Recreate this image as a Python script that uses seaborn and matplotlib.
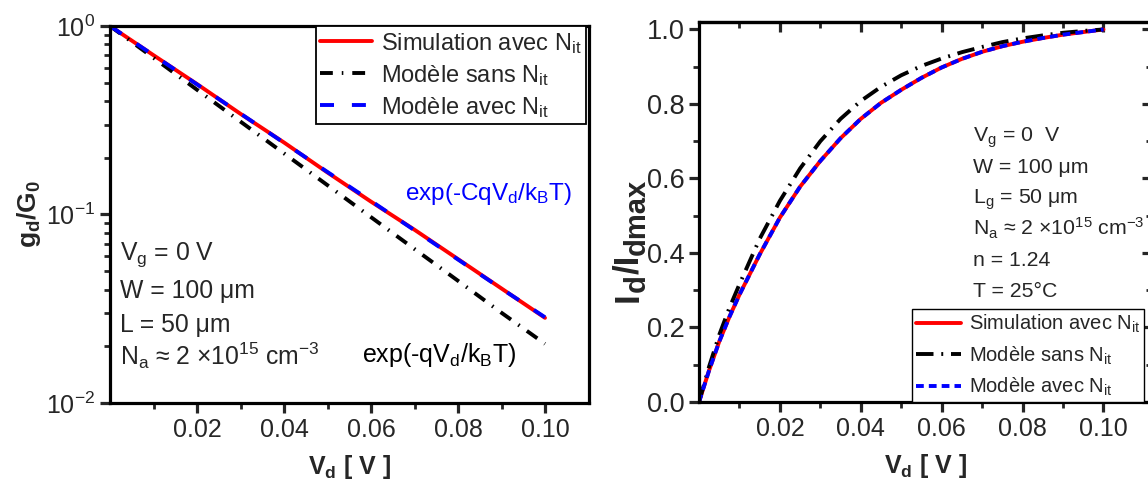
import matplotlib
matplotlib.use("Agg")
import matplotlib.pyplot as plt
import matplotlib.ticker as mticker
from matplotlib.transforms import IdentityTransform
import seaborn as sns

# values
vd = [0.0, 0.01, 0.02, 0.03, 0.04, 0.05, 0.06, 0.07, 0.08, 0.09, 0.10]

# left panel : g_d / G_0 (log scale)
gd_sim = [1.0, 0.700, 0.492, 0.342, 0.241, 0.167, 0.117, 0.083, 0.058, 0.0405, 0.0283]
gd_sans = [1.0, 0.678, 0.459, 0.311, 0.211, 0.143, 0.0968, 0.0656, 0.0445, 0.0301, 0.0206]
gd_avec = [1.0, 0.700, 0.490, 0.343, 0.240, 0.168, 0.118, 0.0825, 0.0577, 0.0404, 0.0285]

# right panel : I_d / I_dmax
vd2 = [0.0, 0.0025, 0.005, 0.0075, 0.01, 0.015, 0.02, 0.025, 0.03, 0.035, 0.04, 0.045,
       0.05, 0.055, 0.06, 0.065, 0.07, 0.075, 0.08, 0.085, 0.09, 0.095, 0.10]
id_sim = [0.0, 0.085, 0.162, 0.228, 0.288, 0.396, 0.495, 0.578, 0.647, 0.708, 0.760, 0.803,
          0.838, 0.870, 0.898, 0.921, 0.940, 0.955, 0.967, 0.977, 0.986, 0.993, 1.0]
id_sans = [0.0, 0.095, 0.180, 0.252, 0.316, 0.438, 0.540, 0.627, 0.700, 0.760, 0.808, 0.846,
           0.877, 0.902, 0.922, 0.939, 0.953, 0.966, 0.976, 0.984, 0.991, 0.996, 1.0]
id_avec = [0.0, 0.085, 0.162, 0.228, 0.288, 0.396, 0.495, 0.578, 0.647, 0.708, 0.760, 0.803,
           0.838, 0.870, 0.898, 0.921, 0.940, 0.955, 0.967, 0.977, 0.986, 0.993, 1.0]

labels = ['Simulation avec N$_\\mathrm{it}$', 'Modèle sans N$_\\mathrm{it}$',
          'Modèle avec N$_\\mathrm{it}$']

sns.set_style("ticks")
plt.rcParams['font.family'] = ['Liberation Sans', 'DejaVu Sans']
plt.rcParams['mathtext.fontset'] = 'custom'
plt.rcParams['mathtext.rm'] = 'Liberation Sans'
plt.rcParams['mathtext.it'] = 'Liberation Sans:italic'
plt.rcParams['mathtext.bf'] = 'Liberation Sans:bold'
plt.rcParams['axes.linewidth'] = 2.3
plt.rcParams['axes.edgecolor'] = 'black'

fig = plt.figure(figsize=(11.48, 4.94), dpi=100)
W, H = 1148, 494
ax1 = fig.add_axes([110 / W, (H - 403) / H, 478.5 / W, 377 / H])
ax2 = fig.add_axes([699 / W, (H - 402) / H, 453 / W, 380 / H])

lw = 2.8

# ---- left panel
ax1.set_yscale('log')
sns.lineplot(x=vd, y=gd_sim, ax=ax1, color='red', lw=lw, label=labels[0])
sns.lineplot(x=vd, y=gd_sans, ax=ax1, color='black', lw=lw,
             linestyle=(0, (3.3, 2.3, 0.4, 2.3)), label=labels[1])
sns.lineplot(x=vd, y=gd_avec, ax=ax1, color='blue', lw=lw,
             linestyle=(0, (3.6, 4.6)), label=labels[2])
ax1.set_xlim(0, 0.11)
ax1.set_ylim(0.01, 1)
ax1.set_xticks([0.02, 0.04, 0.06, 0.08, 0.10])
ax1.xaxis.set_minor_locator(mticker.FixedLocator([0.01, 0.03, 0.05, 0.07, 0.09]))
ax1.xaxis.set_major_formatter(mticker.FormatStrFormatter('%.2f'))
ax1.yaxis.set_minor_formatter(mticker.NullFormatter())
ax1.tick_params(which='major', direction='out', length=7, width=2.3, labelsize=18)
ax1.tick_params(which='minor', direction='out', length=4, width=2)
ax1.set_xlabel('V$_\\mathbf{d}$ [ V ]', fontsize=18, fontweight='bold', labelpad=8)
ax1.set_ylabel('g$_\\mathbf{d}$/G$_\\mathbf{0}$', fontsize=19, fontweight='bold', labelpad=2)

leg1 = ax1.legend(loc='upper right', bbox_to_anchor=(0.995, 1.0), borderaxespad=0.0,
                  fontsize=17, frameon=True, fancybox=False, edgecolor='black',
                  handlelength=2.2, labelspacing=0.3, borderpad=0.2, handletextpad=0.35)
leg1.get_frame().set_linewidth(1.3)
leg1.get_frame().set_alpha(1)

left_txt = ['V$_\\mathrm{g}$ = 0 V', 'W = 100 μm', 'L = 50 μm',
            'N$_\\mathrm{a}$ ≈ 2 ×10$^{15}$ cm$^{-3}$']
for t, yy in zip(left_txt, [0.379, 0.2785, 0.188, 0.102]):
    ax1.text(0.021, yy, t, transform=ax1.transAxes, fontsize=17.8, va='baseline')
ax1.text(0.617, 0.538, 'exp(-CqV$_\\mathrm{d}$/k$_\\mathrm{B}$T)', color='blue',
         transform=ax1.transAxes, fontsize=17.5, va='baseline')
ax1.text(0.527, 0.109, 'exp(-qV$_\\mathrm{d}$/k$_\\mathrm{B}$T)', color='black',
         transform=ax1.transAxes, fontsize=18, va='baseline')

# ---- right panel
sns.lineplot(x=vd2, y=id_sim, ax=ax2, color='red', lw=lw, label=labels[0])
sns.lineplot(x=vd2, y=id_sans, ax=ax2, color='black', lw=lw,
             linestyle=(0, (4.5, 2, 0.5, 2)), label=labels[1])
sns.lineplot(x=vd2, y=id_avec, ax=ax2, color='blue', lw=lw,
             linestyle=(0, (2, 1.3)), label=labels[2])
ax2.set_xlim(0, 0.112)
ax2.set_ylim(0, 1.02)
ax2.set_xticks([0.02, 0.04, 0.06, 0.08, 0.10])
ax2.xaxis.set_minor_locator(mticker.FixedLocator([0.01, 0.03, 0.05, 0.07, 0.09]))
ax2.xaxis.set_major_formatter(mticker.FormatStrFormatter('%.2f'))
ax2.set_yticks([0.0, 0.2, 0.4, 0.6, 0.8, 1.0])
ax2.yaxis.set_minor_locator(mticker.FixedLocator([0.1, 0.3, 0.5, 0.7, 0.9]))
ax2.yaxis.set_major_formatter(mticker.FormatStrFormatter('%.1f'))
ax2.tick_params(which='major', direction='out', length=7, width=2.3, labelsize=18)
ax2.tick_params(axis='y', labelsize=19.5)
ax2.tick_params(which='minor', direction='out', length=4, width=2)
ax2.set_xlabel('V$_\\mathbf{d}$ [ V ]', fontsize=18, fontweight='bold', labelpad=8)

# mirrored ticks pointing inward on top and right
top = ax2.secondary_xaxis('top')
top.set_xticks([0.02, 0.04, 0.06, 0.08, 0.10])
top.xaxis.set_minor_locator(mticker.FixedLocator([0.01, 0.03, 0.05, 0.07, 0.09]))
top.tick_params(which='major', direction='in', length=7, width=2.3, labeltop=False)
top.tick_params(which='minor', direction='in', length=4, width=2)
right = ax2.secondary_yaxis('right')
right.set_yticks([0.0, 0.2, 0.4, 0.6, 0.8, 1.0])
right.yaxis.set_minor_locator(mticker.FixedLocator([0.1, 0.3, 0.5, 0.7, 0.9]))
right.tick_params(which='major', direction='in', length=7, width=2.3, labelright=False)
right.tick_params(which='minor', direction='in', length=4, width=2)

leg2 = ax2.legend(loc='lower left', bbox_to_anchor=(0.471, 0.0), borderaxespad=0.0,
                  fontsize=14.5, frameon=True, fancybox=False, edgecolor='black',
                  handlelength=2.2, labelspacing=0.45, borderpad=0.2, handletextpad=0.4)
leg2.get_frame().set_linewidth(1.0)
leg2.get_frame().set_alpha(1)

right_txt = ['V$_\\mathrm{g}$ = 0  V', 'W = 100 μm', 'L$_\\mathrm{g}$ = 50 μm',
             'N$_\\mathrm{a}$ ≈ 2 ×10$^{15}$ cm$^{-3}$', 'n = 1.24', 'T = 25°C']
for t, yy in zip(right_txt, [0.684, 0.603, 0.521, 0.439, 0.358, 0.276]):
    ax2.text(0.604, yy, t, transform=ax2.transAxes, fontsize=15.3, va='baseline')

# y label of the right panel: large subscripts, built from pieces (pixel coords)
fig.canvas.draw()
renderer = fig.canvas.get_renderer()
ylab_pieces = [('I', 25, 0), ('d', 21, 7), ('/I', 25, 0), ('dmax', 21, 7)]
ypos = H - 302
for txt, size, shift in ylab_pieces:
    t = fig.text(638 + shift, ypos, txt, fontsize=size, fontweight='bold', rotation=90,
                 rotation_mode='anchor', ha='left', va='baseline',
                 transform=IdentityTransform())
    ypos += t.get_window_extent(renderer).height

fig.savefig('out.png', dpi=100)
